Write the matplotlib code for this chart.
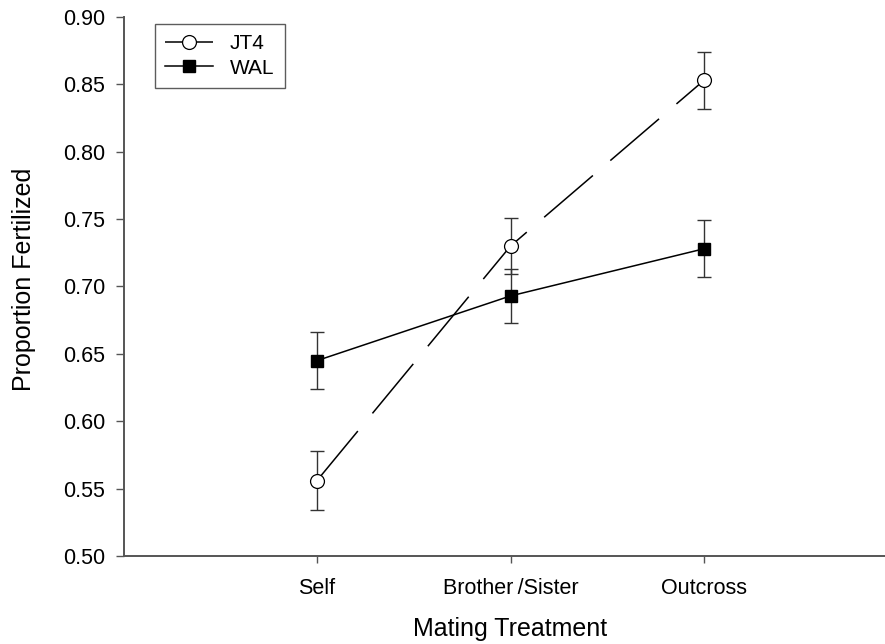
import numpy as np
import matplotlib
matplotlib.use("Agg")
import matplotlib.pyplot as plt

plt.rcParams['font.family'] = ['Liberation Sans', 'DejaVu Sans']

# datos
tratamientos = ["Self", "Brother\u2009/Sister", "Outcross"]
jt4_media = [0.556, 0.730, 0.853]
jt4_err = [0.022, 0.021, 0.021]
wal_media = [0.645, 0.693, 0.728]
wal_err = [0.021, 0.020, 0.021]

W, H = 885, 644
fig = plt.figure(figsize=(W / 100, H / 100), dpi=100)
ax_izq, ax_der, ax_arr, ax_abj = 123.5, 897.5, 17, 556
ax = fig.add_axes([ax_izq / W, (H - ax_abj) / H, (ax_der - ax_izq) / W, (ax_abj - ax_arr) / H])

x = np.arange(1, len(tratamientos) + 1)
gris = "#555555"

ax.errorbar(x, jt4_media, yerr=jt4_err, fmt='none', ecolor="#333333",
            elinewidth=1.0, capsize=5, capthick=1.0, zorder=2)
ax.errorbar(x, wal_media, yerr=wal_err, fmt='none', ecolor="#333333",
            elinewidth=1.0, capsize=5, capthick=1.0, zorder=2)

l1, = ax.plot(x, jt4_media, color='black', lw=1.1, marker='o', markersize=10,
              markerfacecolor='white', markeredgecolor='black', markeredgewidth=0.9,
              label="JT4", zorder=3)
l1.set_dashes([42, 15])
ax.plot(x, wal_media, color='black', lw=1.1, marker='s', markersize=9,
        markerfacecolor='black', markeredgecolor='black', label="WAL", zorder=3)

ax.set_xlim(0, 4)
ax.set_ylim(0.5, 0.9)
ax.set_xticks(x)
ax.set_xticklabels(tratamientos)
ax.set_yticks(np.arange(0.50, 0.901, 0.05))
ax.set_yticklabels([f"{v:.2f}" for v in np.arange(0.50, 0.901, 0.05)])

for lado in ['top', 'right']:
    ax.spines[lado].set_visible(False)
for lado in ['left', 'bottom']:
    ax.spines[lado].set_color(gris)
    ax.spines[lado].set_linewidth(1.4)

ax.tick_params(axis='y', direction='out', length=6, width=1, color=gris,
               labelsize=15.5, pad=7)
ax.tick_params(axis='x', direction='out', length=5, width=1, color=gris,
               labelsize=15.5, pad=11)

ax.set_xlabel("Mating Treatment", fontsize=18)
ax.set_ylabel("Proportion Fertilized", fontsize=18)
alto = ax_abj - ax_arr
ancho = ax_der - ax_izq
ax.xaxis.set_label_coords((510 - ax_izq) / ancho, -(617 - ax_abj) / alto)
ax.yaxis.set_label_coords(-(ax_izq - 36) / ancho, 0.5 + (286.5 - 279) / alto)

leg = ax.legend(loc='upper left', bbox_to_anchor=(155 / W, 1 - 24 / H),
                bbox_transform=fig.transFigure, fontsize=15, frameon=True,
                fancybox=False, borderpad=0.5, handlelength=2.3,
                handletextpad=0.8, labelspacing=0.25, borderaxespad=0)
leg.get_frame().set_edgecolor("#333333")
leg.get_frame().set_linewidth(1.0)

fig.savefig("out.png", dpi=100)
